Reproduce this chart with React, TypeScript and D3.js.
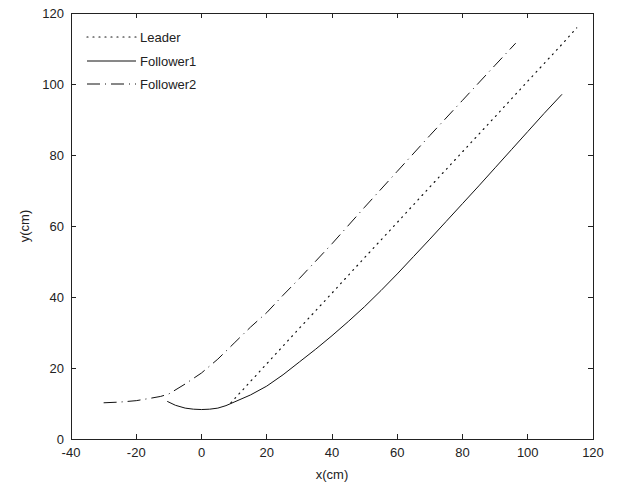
import React from "react";
import * as d3 from "d3";

// Trajectories of the leader and its two followers, in centimetres
const leaderX = [9, 15, 20, 30, 40, 50, 60, 70, 80, 90, 100, 110, 115];
const leaderY = [10.2, 16.2, 21.2, 31.2, 41.1, 51.1, 61.0, 71.0, 80.9, 90.8, 100.8, 110.7, 115.8];

const follower1X = [-10.5, -8, -5, -2.5, 0, 2.5, 5, 7.5, 10, 15, 20, 25, 30, 35, 40, 45, 50, 55, 60, 65, 70, 75, 80, 85, 90, 95, 100, 105, 110.5];
const follower1Y = [10.6, 9.5, 8.7, 8.4, 8.3, 8.4, 8.7, 9.4, 10.4, 12.4, 14.9, 18.1, 21.7, 25.3, 29.1, 33.1, 37.3, 41.8, 46.5, 51.4, 56.3, 61.3, 66.3, 71.3, 76.4, 81.5, 86.6, 91.7, 97.1];

const follower2X = [-30, -25, -20, -15.5, -12.5, -10, -5, 0, 5, 10, 15, 20, 25, 30, 40, 50, 60, 70, 80, 90, 96.3];
const follower2Y = [10.2, 10.4, 10.8, 11.5, 12.0, 12.7, 15.5, 18.6, 22.5, 27.0, 31.5, 35.6, 40.5, 45.2, 55.0, 65.3, 75.4, 85.5, 95.4, 105.3, 111.5];

const xTicks = [-40, -20, 0, 20, 40, 60, 80, 100, 120];
const yTicks = [0, 20, 40, 60, 80, 100, 120];

const seriesNames = ["Leader", "Follower1", "Follower2"];
const seriesDash = ["1,5", "none", "13,5,1,5"];

const W = 617;
const H = 489;
const left = 71;
const right = 593;
const top = 13;
const bottom = 439;
const tickLen = 5;
const font = "'Liberation Sans', Arial, sans-serif";

export default function App() {
  const x = d3.scaleLinear().domain([-40, 120]).range([left, right]);
  const y = d3.scaleLinear().domain([0, 120]).range([bottom, top]);

  const line = d3
    .line<[number, number]>()
    .x((d) => x(d[0]))
    .y((d) => y(d[1]));

  const series: [number, number][][] = [
    leaderX.map((v, i) => [v, leaderY[i]]),
    follower1X.map((v, i) => [v, follower1Y[i]]),
    follower2X.map((v, i) => [v, follower2Y[i]]),
  ];

  const legendY = [37, 61, 84];

  return (
    <svg
      width={W}
      height={H}
      style={{ position: "absolute", left: 0, top: 0, background: "#fff" }}
      fontFamily={font}
    >
      <rect x={0} y={0} width={W} height={H} fill="#fff" />

      {/* data curves */}
      <g fill="none" stroke="#111" strokeWidth={1}>
        {series.map((s, i) => (
          <path
            key={seriesNames[i]}
            d={line(s) || ""}
            strokeDasharray={seriesDash[i]}
            strokeLinecap={i === 0 ? "round" : "butt"}
            strokeWidth={i === 0 ? 1.2 : 1}
          />
        ))}
      </g>

      {/* axes box and ticks */}
      <g stroke="#222" strokeWidth={1} shapeRendering="crispEdges" fill="none">
        <rect x={left} y={top} width={right - left} height={bottom - top} />
        {xTicks.map((t) => (
          <g key={"xt" + t}>
            <line x1={x(t)} x2={x(t)} y1={bottom} y2={bottom - tickLen} />
            <line x1={x(t)} x2={x(t)} y1={top} y2={top + tickLen} />
          </g>
        ))}
        {yTicks.map((t) => (
          <g key={"yt" + t}>
            <line x1={left} x2={left + tickLen} y1={y(t)} y2={y(t)} />
            <line x1={right} x2={right - tickLen} y1={y(t)} y2={y(t)} />
          </g>
        ))}
      </g>

      {/* tick labels */}
      <g fontSize={13} fill="#222">
        {xTicks.map((t) => (
          <text key={"xl" + t} x={x(t)} y={bottom + 18} textAnchor="middle">
            {t}
          </text>
        ))}
        {yTicks.map((t) => (
          <text key={"yl" + t} x={left - 7} y={y(t) + 5} textAnchor="end">
            {t}
          </text>
        ))}
      </g>

      {/* axis titles */}
      <text x={(left + right) / 2} y={479} fontSize={13} textAnchor="middle" fill="#222">
        x(cm)
      </text>
      <text
        transform={`translate(29, ${(top + bottom) / 2}) rotate(-90)`}
        fontSize={13}
        textAnchor="middle"
        fill="#222"
      >
        y(cm)
      </text>

      {/* legend */}
      <g>
        {seriesNames.map((name, i) => (
          <g key={"lg" + name}>
            <line
              x1={87}
              x2={136}
              y1={legendY[i]}
              y2={legendY[i]}
              stroke="#111"
              strokeWidth={i === 0 ? 1.2 : 1}
              strokeDasharray={seriesDash[i]}
              strokeLinecap={i === 0 ? "round" : "butt"}
            />
            <text x={140} y={legendY[i] + 5} fontSize={13} fill="#222">
              {name}
            </text>
          </g>
        ))}
      </g>
    </svg>
  );
}
